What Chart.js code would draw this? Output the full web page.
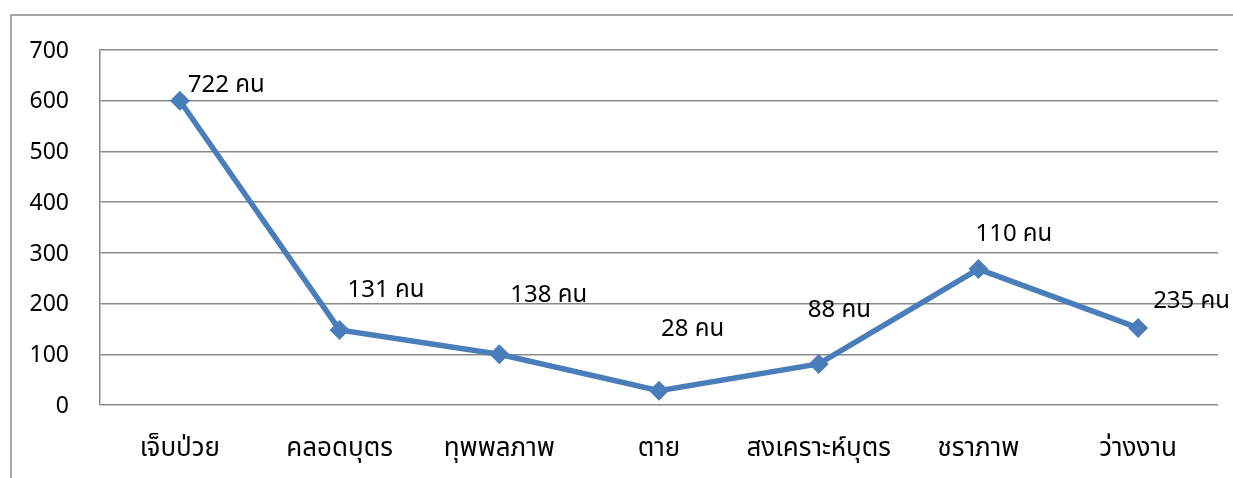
<!DOCTYPE html>
<html lang="th">
<head>
<meta charset="utf-8">
<title>ผู้ใช้สิทธิประโยชน์จำแนกตามกรณี</title>
<script src="https://cdn.jsdelivr.net/npm/chart.js@4/dist/chart.umd.min.js"></script>
<style>
  html, body { margin: 0; padding: 0; background: #ffffff; }
  #wrap { position: relative; width: 1233px; height: 478px; }
</style>
</head>
<body>
<div id="wrap"><canvas id="chart" width="1233" height="478"></canvas></div>
<script>
// Benefit cases along the x axis
const categories = ['เจ็บป่วย', 'คลอดบุตร', 'ทุพพลภาพ', 'ตาย', 'สงเคราะห์บุตร', 'ชราภาพ', 'ว่างงาน'];
// Plotted series values
const seriesValues = [600, 148, 100, 28, 81, 268, 152];
// Number of people annotated next to each point
const peopleCounts = [722, 131, 138, 28, 88, 110, 235];
const peopleUnit = 'คน';
// Value axis ticks
const yTicks = [0, 100, 200, 300, 400, 500, 600, 700];

const FONT = '"Noto Sans Thai", Tahoma, "Noto Sans", "DejaVu Sans", sans-serif';
const GRID = '#8a8a8a';

// Hand-placed label offsets from each point (left edge x, middle y)
const labelOffsets = [[8, -14], [8, -38], [11, -57], [2, -60], [-11, -52], [-3, -33], [15, -25]];

const frame = {
  id: 'frame',
  beforeDraw(chart) {
    const c = chart.ctx;
    c.save();
    c.fillStyle = '#ffffff';
    c.fillRect(0, 0, chart.width, chart.height);
    c.strokeStyle = '#8a8a8a';
    c.lineWidth = 1.5;
    c.beginPath();
    c.moveTo(11, chart.height);
    c.lineTo(11, 15);
    c.lineTo(chart.width, 15);
    c.stroke();
    c.restore();
  }
};

const peopleLabels = {
  id: 'peopleLabels',
  afterDatasetsDraw(chart) {
    const c = chart.ctx;
    const meta = chart.getDatasetMeta(0);
    c.save();
    c.font = '24px ' + FONT;
    c.fillStyle = '#000000';
    c.textAlign = 'left';
    c.textBaseline = 'middle';
    meta.data.forEach((pt, i) => {
      const [dx, dy] = labelOffsets[i];
      c.fillText(peopleCounts[i] + ' ' + peopleUnit, pt.x + dx, pt.y + dy);
    });
    c.restore();
  }
};

new Chart(document.getElementById('chart'), {
  type: 'line',
  data: {
    labels: categories,
    datasets: [{
      data: seriesValues,
      borderColor: '#4a7ebb',
      backgroundColor: '#4a7ebb',
      borderWidth: 5.5,
      pointStyle: 'rectRot',
      pointRadius: 10,
      pointHoverRadius: 10,
      pointBorderWidth: 0,
      tension: 0,
      fill: false
    }]
  },
  options: {
    responsive: false,
    animation: false,
    devicePixelRatio: 1,
    layout: { padding: { top: 50, right: 15, left: 0, bottom: 0 } },
    plugins: { legend: { display: false }, tooltip: { enabled: false } },
    scales: {
      x: {
        offset: true,
        grid: { display: false, drawTicks: false },
        border: { display: false },
        ticks: { color: '#000000', font: { family: FONT, size: 26 }, padding: 30, maxRotation: 0, autoSkip: false },
        afterFit(s) { s.height = 73; }
      },
      y: {
        min: 0,
        max: 700,
        afterBuildTicks(s) { s.ticks = yTicks.map(v => ({ value: v })); },
        grid: { color: GRID, lineWidth: 1.5, drawTicks: false },
        border: { display: true, color: GRID, width: 1.5 },
        ticks: { color: '#000000', font: { family: FONT, size: 23 }, padding: 31, labelOffset: 3 },
        afterFit(s) { s.width = 100; }
      }
    }
  },
  plugins: [frame, peopleLabels]
});
</script>
</body>
</html>
